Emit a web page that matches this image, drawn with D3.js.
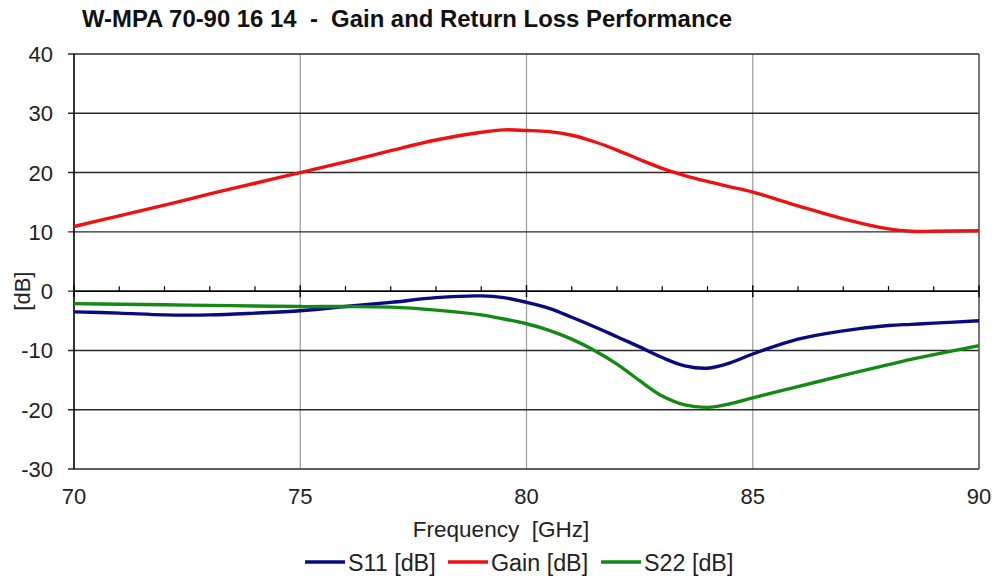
<!DOCTYPE html>
<html>
<head>
<meta charset="utf-8">
<script src="https://cdn.jsdelivr.net/npm/d3@7"></script>
<style>
  body { margin: 0; background: #fff; }
  text { font-family: "Liberation Sans", Arial, sans-serif; }
</style>
</head>
<body>
<div id="chart"></div>
<script>
const freq = [70, 71, 72, 73, 74, 75, 76, 77, 78, 79, 79.5, 80, 80.5, 81, 81.5, 82, 82.5, 83, 83.5, 84, 84.5, 85, 86, 87, 88, 88.5, 89, 90];
const gain = [10.9, 12.7, 14.5, 16.4, 18.2, 20.0, 21.8, 23.7, 25.5, 26.8, 27.2, 27.1, 26.9, 26.3, 25.2, 23.8, 22.2, 20.7, 19.5, 18.5, 17.6, 16.7, 14.4, 12.2, 10.5, 10.1, 10.1, 10.2];
const s11 = [-3.5, -3.7, -4.0, -4.0, -3.7, -3.3, -2.6, -1.9, -1.1, -0.8, -1.1, -1.9, -2.9, -4.4, -6.0, -7.7, -9.4, -11.2, -12.6, -13.0, -12.1, -10.6, -8.1, -6.7, -5.8, -5.6, -5.4, -5.0];
const s22 = [-2.1, -2.2, -2.3, -2.4, -2.5, -2.6, -2.6, -2.7, -3.2, -4.0, -4.7, -5.5, -6.6, -8.1, -10.0, -12.3, -15.1, -17.7, -19.2, -19.6, -19.0, -18.0, -16.1, -14.2, -12.4, -11.5, -10.7, -9.2];
const xTicks = [70, 75, 80, 85, 90];
const yTicks = [-30, -20, -10, 0, 10, 20, 30, 40];
const series = [
  { name: "S11 [dB]", values: s11, color: "#0a0a80" },
  { name: "Gain [dB]", values: gain, color: "#ee1111" },
  { name: "S22 [dB]", values: s22, color: "#138a13" }
];

const W = 996, H = 576;
const plot = { left: 74, right: 979, top: 54, bottom: 469 };

const svg = d3.select("#chart").append("svg")
  .attr("width", W).attr("height", H);

const x = d3.scaleLinear().domain([70, 90]).range([plot.left, plot.right]);
const y = d3.scaleLinear().domain([-30, 40]).range([plot.bottom, plot.top]);

// title
svg.append("text")
  .attr("x", 82).attr("y", 27)
  .attr("font-size", 23.9).attr("font-weight", "bold")
  .attr("fill", "#111")
  .style("white-space", "pre")
  .text("W-MPA 70-90 16 14  -  Gain and Return Loss Performance");

// vertical grid
svg.append("g").selectAll("line")
  .data(xTicks.slice(1, -1))
  .enter().append("line")
  .attr("x1", d => x(d)).attr("x2", d => x(d))
  .attr("y1", plot.top).attr("y2", plot.bottom)
  .attr("stroke", "#9a9a9a").attr("stroke-width", 1.2);

// horizontal grid
svg.append("g").selectAll("line")
  .data(yTicks)
  .enter().append("line")
  .attr("x1", plot.left - 6).attr("x2", plot.right)
  .attr("y1", d => y(d)).attr("y2", d => y(d))
  .attr("stroke", "#2a2a2a").attr("stroke-width", 1.4);

// right border
svg.append("line")
  .attr("x1", plot.right).attr("x2", plot.right)
  .attr("y1", plot.top).attr("y2", plot.bottom)
  .attr("stroke", "#555").attr("stroke-width", 1.6);

// y axis line
svg.append("line")
  .attr("x1", plot.left).attr("x2", plot.left)
  .attr("y1", plot.top).attr("y2", plot.bottom)
  .attr("stroke", "#000").attr("stroke-width", 1.6);

// x axis crossing at 0 with ticks
const xAxis = svg.append("g");
xAxis.append("line")
  .attr("x1", plot.left).attr("x2", plot.right)
  .attr("y1", y(0)).attr("y2", y(0))
  .attr("stroke", "#000").attr("stroke-width", 1.5);
xAxis.selectAll(".minor")
  .data(d3.range(71, 90).filter(d => d % 5 !== 0))
  .enter().append("line")
  .attr("x1", d => x(d)).attr("x2", d => x(d))
  .attr("y1", y(0) - 5).attr("y2", y(0))
  .attr("stroke", "#000").attr("stroke-width", 1.2);
xAxis.selectAll(".major")
  .data(xTicks)
  .enter().append("line")
  .attr("x1", d => x(d)).attr("x2", d => x(d))
  .attr("y1", y(0) - 6).attr("y2", y(0) + 6)
  .attr("stroke", "#000").attr("stroke-width", 1.4);

// y tick labels
svg.append("g").selectAll("text")
  .data(yTicks)
  .enter().append("text")
  .attr("x", 53).attr("y", d => y(d) + 8)
  .attr("text-anchor", "end")
  .attr("font-size", 22).attr("fill", "#222")
  .text(d => d);

// x tick labels
svg.append("g").selectAll("text")
  .data(xTicks)
  .enter().append("text")
  .attr("x", d => x(d)).attr("y", 504)
  .attr("text-anchor", "middle")
  .attr("font-size", 22).attr("fill", "#222")
  .text(d => d);

// axis titles
svg.append("text")
  .attr("x", 501).attr("y", 537)
  .attr("text-anchor", "middle")
  .attr("font-size", 22.5).attr("fill", "#222")
  .style("white-space", "pre")
  .text("Frequency  [GHz]");

svg.append("text")
  .attr("transform", `translate(30, ${y(0)}) rotate(-90)`)
  .attr("text-anchor", "middle")
  .attr("font-size", 22).attr("fill", "#222")
  .text("[dB]");

// curves
const line = d3.line()
  .x((d, i) => x(freq[i]))
  .y(d => y(d))
  .curve(d3.curveCatmullRom.alpha(0.5));

series.forEach(s => {
  svg.append("path")
    .datum(s.values)
    .attr("d", line)
    .attr("fill", "none")
    .attr("stroke", s.color)
    .attr("stroke-width", 3.4)
    .attr("stroke-linejoin", "round");
});

// legend
const legendX = [305, 448, 601];
const legend = svg.append("g");
series.forEach((s, i) => {
  legend.append("line")
    .attr("x1", legendX[i]).attr("x2", legendX[i] + 40)
    .attr("y1", 562).attr("y2", 562)
    .attr("stroke", s.color).attr("stroke-width", 3.4);
  legend.append("text")
    .attr("x", legendX[i] + 43).attr("y", 571)
    .attr("font-size", 23.3).attr("fill", "#222")
    .text(s.name);
});
</script>
</body>
</html>
